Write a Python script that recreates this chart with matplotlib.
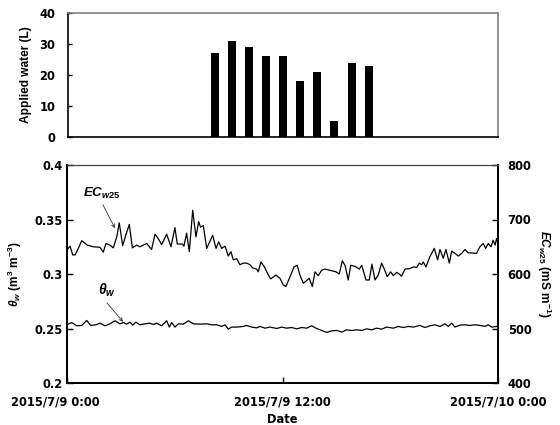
import matplotlib
matplotlib.use("Agg")
import matplotlib.pyplot as plt
import matplotlib.transforms as mtransforms

plt.rcParams['mathtext.fontset'] = 'custom'
plt.rcParams['mathtext.rm'] = 'Liberation Sans:bold'
plt.rcParams['mathtext.it'] = 'Liberation Sans:italic:bold'
plt.rcParams['mathtext.bf'] = 'Liberation Sans:bold'

# ---------------- data ----------------
bar_hours = [8.2, 9.15, 10.1, 11.05, 12.0, 12.95, 13.9, 14.85, 15.85, 16.8]
applied_water = [27, 31, 29, 26, 26, 18, 21, 5, 24, 23]

ec_hours = [0, 0.17, 0.32, 0.45, 0.63, 0.82, 1.13, 1.46, 1.84, 2.02,
            2.17, 2.39, 2.58, 2.77, 2.91, 3.10, 3.28, 3.47, 3.64, 3.88,
            4.06, 4.44, 4.71, 4.90, 5.08, 5.27, 5.55, 5.79, 6.01, 6.14,
            6.42, 6.51, 6.66, 6.81, 7.0, 7.18, 7.33, 7.44, 7.59, 7.78,
            8.11, 8.30, 8.45, 8.61, 8.80, 8.98, 9.13, 9.26, 9.45, 9.63,
            9.82, 10.0, 10.19, 10.34, 10.56, 10.65, 10.80, 10.99, 11.17, 11.34,
            11.64, 11.86, 12.04, 12.19, 12.42, 12.64, 12.82, 12.97, 13.16, 13.38,
            13.49, 13.66, 13.81, 13.99, 14.18, 14.37, 14.74, 14.98, 15.16, 15.33,
            15.48, 15.66, 15.80, 16.04, 16.28, 16.41, 16.65, 16.83, 16.98, 17.15,
            17.33, 17.52, 17.71, 17.83, 18.02, 18.17, 18.36, 18.50, 18.63, 18.82,
            19.10, 19.28, 19.47, 19.62, 19.75, 19.84, 19.99, 20.21, 20.45, 20.64,
            20.77, 20.95, 21.10, 21.29, 21.42, 21.60, 21.79, 21.98, 22.16, 22.34,
            22.81, 22.99, 23.18, 23.31, 23.46, 23.61, 23.73, 23.84, 23.92, 24.0]
ec_w25 = [644, 651, 635, 635, 647, 661, 653, 650, 649, 640,
          656, 653, 648, 668, 694, 652, 672, 691, 648, 653,
          650, 656, 645, 673, 665, 654, 673, 650, 685, 655,
          655, 651, 675, 641, 717, 668, 696, 686, 689, 647,
          671, 647, 659, 647, 651, 633, 641, 626, 628, 617,
          620, 620, 617, 611, 609, 604, 622, 613, 601, 591,
          598, 592, 580, 577, 595, 613, 616, 598, 583, 589,
          592, 577, 604, 597, 607, 609, 606, 604, 600, 624,
          616, 589, 616, 614, 609, 616, 589, 589, 618, 589,
          598, 620, 606, 595, 604, 597, 603, 600, 596, 609,
          610, 613, 612, 620, 617, 622, 613, 632, 647, 626,
          645, 629, 645, 620, 642, 638, 633, 638, 645, 639,
          638, 650, 656, 647, 656, 650, 662, 653, 665, 656]

theta_hours = [0, 0.26, 0.54, 0.82, 1.10, 1.32, 1.61, 1.84, 2.12, 2.39,
               2.67, 2.95, 3.14, 3.32, 3.51, 3.66, 3.84, 4.06, 4.34, 4.58,
               4.81, 4.99, 5.27, 5.55, 5.70, 5.83, 6.01, 6.20, 6.48, 6.76,
               7.03, 7.41, 7.78, 8.06, 8.33, 8.61, 8.80, 8.98, 9.17, 9.45,
               9.82, 10.0, 10.28, 10.56, 10.75, 11.02, 11.30, 11.68, 11.95, 12.23,
               12.51, 12.79, 13.07, 13.35, 13.62, 13.90, 14.18, 14.46, 14.74, 15.02,
               15.30, 15.57, 15.85, 16.13, 16.41, 16.69, 16.97, 17.24, 17.52, 17.80,
               18.17, 18.45, 18.73, 19.0, 19.28, 19.65, 19.93, 20.21, 20.49, 20.77,
               21.05, 21.23, 21.42, 21.60, 21.88, 22.16, 22.44, 22.72, 23.0, 23.27,
               23.46, 23.65, 23.93, 24.0]
theta_w = [0.2534, 0.2555, 0.2525, 0.2528, 0.2574, 0.2528, 0.2534, 0.2549, 0.2525, 0.2543,
           0.2571, 0.2543, 0.2555, 0.2540, 0.2558, 0.2531, 0.2558, 0.2534, 0.2543, 0.2549,
           0.2537, 0.2549, 0.2525, 0.2571, 0.2513, 0.2555, 0.2513, 0.2543, 0.2540, 0.2571,
           0.2543, 0.2540, 0.2543, 0.2534, 0.2534, 0.2519, 0.2534, 0.2494, 0.2513, 0.2513,
           0.2519, 0.2528, 0.2513, 0.2506, 0.2519, 0.2503, 0.2513, 0.2500, 0.2513, 0.2503,
           0.2509, 0.2497, 0.2509, 0.2503, 0.2525, 0.2500, 0.2482, 0.2464, 0.2479, 0.2482,
           0.2467, 0.2488, 0.2482, 0.2488, 0.2482, 0.2497, 0.2488, 0.2503, 0.2494, 0.2513,
           0.2503, 0.2519, 0.2509, 0.2519, 0.2513, 0.2528, 0.2509, 0.2525, 0.2534, 0.2519,
           0.2543, 0.2519, 0.2549, 0.2513, 0.2531, 0.2534, 0.2528, 0.2534, 0.2528, 0.2519,
           0.2534, 0.2513, 0.2519, 0.2519]

x_ticks = [0, 12, 24]
x_tick_labels = ['2015/7/9 0:00', '2015/7/9 12:00', '2015/7/10 0:00']
top_yticks = [0, 10, 20, 30, 40]
left_yticks = [0.2, 0.25, 0.3, 0.35, 0.4]
left_yticklabels = ['0.2', '0.25', '0.3', '0.35', '0.4']
right_yticks = [400, 500, 600, 700, 800]

# ---------------- styling ----------------
H_FONT = {'family': 'DejaVu Sans', 'weight': 'bold', 'size': 8.3}
V_FONT = {'family': 'Liberation Sans', 'weight': 'bold', 'size': 8.6}

fig = plt.figure(figsize=(5.6, 4.25), dpi=100)
W, Hh = 560.0, 425.0
ax_top = fig.add_axes([68 / W, 1 - 137 / Hh, 430 / W, 124 / Hh])
ax = fig.add_axes([67 / W, 1 - 383 / Hh, 431 / W, 218 / Hh])
ax2 = ax.twinx()

# ---- top panel ----
ax_top.bar(bar_hours, applied_water, width=0.45, color='black')
ax_top.set_xlim(0, 24)
ax_top.set_ylim(0, 40)
ax_top.set_xticks([])
ax_top.set_yticks(top_yticks)
ax_top.set_yticklabels([str(v) for v in top_yticks], fontdict=H_FONT)
ax_top.tick_params(axis='y', direction='in', length=3, pad=9, width=1)
for s in ['top', 'right']:
    ax_top.spines[s].set_color('#7f7f7f')
    ax_top.spines[s].set_linewidth(1.2)
for s in ['left', 'bottom']:
    ax_top.spines[s].set_color('black')
    ax_top.spines[s].set_linewidth(1.2)
ax_top.set_ylabel('Applied water (L)', fontdict=V_FONT)
ax_top.yaxis.set_label_coords(-0.084, 0.5)

# ---- bottom panel ----
ax.plot(theta_hours, theta_w, color='black', lw=0.9)
ax2.plot(ec_hours, ec_w25, color='black', lw=0.9)

ax.set_xlim(0, 24)
ax.set_ylim(0.2, 0.4)
ax2.set_ylim(400, 800)
ax.set_xticks(x_ticks)
ax.set_xticklabels(x_tick_labels, fontdict=H_FONT)
ax.set_yticks(left_yticks)
ax.set_yticklabels(left_yticklabels, fontdict=H_FONT)
ax2.set_yticks(right_yticks)
ax2.set_yticklabels([str(v) for v in right_yticks], fontdict=H_FONT)

ax.tick_params(axis='x', direction='in', length=4, pad=9, width=1)
ax.tick_params(axis='y', direction='in', length=4, pad=3, width=1)
ax2.tick_params(axis='y', direction='in', length=4, pad=7, width=1)

for a in (ax, ax2):
    a.spines['top'].set_color('#404040')
    for s in ['left', 'right', 'bottom']:
        a.spines[s].set_color('black')
        a.spines[s].set_linewidth(1.3)

# shift first x label slightly left like the reference
lbls = ax.get_xticklabels()
lbls[0].set_transform(lbls[0].get_transform() +
                      mtransforms.ScaledTranslation(-0.12, 0, fig.dpi_scale_trans))

ax.set_xlabel('Date', fontdict=H_FONT)
ax.xaxis.set_label_coords(0.5, -0.138)
ax.set_ylabel(r'$\theta_w$ (m$^3$ m$^{-3}$)', fontdict=V_FONT)
ax.yaxis.set_label_coords(-0.10, 0.5)
ax2.set_ylabel(r'$EC_{w25}$ (mS m$^{-1}$)', fontdict=V_FONT, rotation=270)
ax2.yaxis.set_label_coords(1.128, 0.5)

# annotations
ax2.text(1.95, 748, r'$EC_{w25}$', ha='center', va='center', fontsize=9.5)
ax2.annotate('', xy=(2.67, 684), xytext=(2.0, 727),
             arrowprops=dict(arrowstyle='->', color='#333333', lw=0.6,
                             shrinkA=0, shrinkB=0, mutation_scale=6))
ax.text(2.23, 0.2855, r'$\theta_w$', ha='center', va='center', fontsize=10)
ax.annotate('', xy=(3.12, 0.2561), xytext=(2.23, 0.2735),
            arrowprops=dict(arrowstyle='->', color='#333333', lw=0.6,
                            shrinkA=0, shrinkB=0, mutation_scale=6))

fig.savefig('out.png', dpi=100)
